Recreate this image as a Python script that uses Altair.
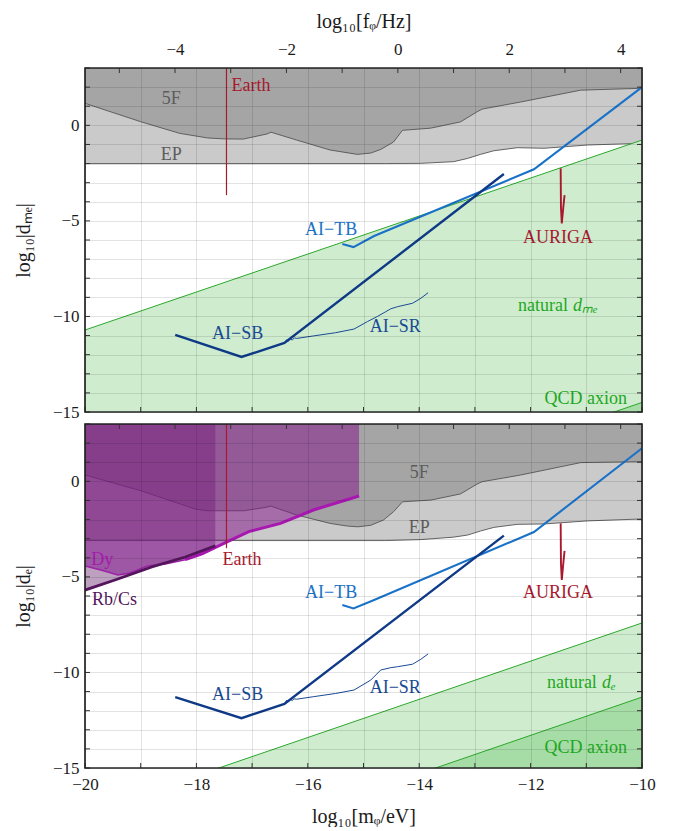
import altair as alt
import pandas as pd

# ---------------- constants ----------------
LOG_EV_TO_HZ = 14.38346          # log10(1 eV / h  in Hz)
W, H = 557, 344
X_MIN, X_MAX = -20, -10
Y_MIN, Y_MAX = -15, 3
FONT = "Liberation Serif"

X_GRID = list(range(-20, -9))
Y_GRID = list(range(-15, 4))
F_TICKS = list(range(-5, 5))
F_LABELS = [-4, -2, 0, 2, 4]

# ---------------- data : top panel (d_me) ----------------
F5_TOP_X = [-20.0, -19.0, -18.3, -17.8, -17.5, -17.16, -16.73, -16.66, -16.2, -15.6, -15.11,
            -14.87, -14.69, -14.46, -14.3, -13.8, -13.26, -12.96, -12.87, -12.18, -11.1, -10.0]
F5_TOP_Y = [1.15, 0.19, -0.42, -0.66, -0.71, -0.72, -0.45, -0.36, -0.77, -1.29, -1.52,
            -1.45, -1.26, -0.87, -0.26, -0.15, 0.18, 0.71, 0.85, 1.22, 1.84, 1.94]
EP_TOP_X = [-20.0, -14.6, -13.98, -13.38, -13.13, -12.9, -12.66, -12.24, -11.76, -10.98, -10.0]
EP_TOP_Y = [-2.0, -2.0, -1.99, -1.9, -1.73, -1.52, -1.33, -1.17, -1.2, -1.03, -0.94]

NAT_TOP_X = [-20.0, -10.0]
NAT_TOP_Y = [-10.71, -0.77]
QCD_TOP_X = [-20.0, -10.0]
QCD_TOP_Y = [-24.5, -14.5]

EARTH_X = -17.46
EARTH_TOP_END = -3.65
EARTH_BOT_END = -3.5

AURIGA_X = [-11.46, -11.455, -11.44, -11.41, -11.39]
AURIGA_TOP_Y = [-2.25, -4.3, -5.13, -4.2, -3.65]
AURIGA_BOT_Y = [-2.2, -4.3, -5.16, -4.2, -3.64]

AITB_X = [-15.38, -15.18, -14.81, -11.94, -10.0]
AITB_TOP_Y = [-6.21, -6.37, -5.79, -2.3, 2.0]
AITB_BOT_Y = [-6.47, -6.65, -6.21, -2.65, 1.73]

AISB_X = [-18.38, -17.19, -16.42, -12.48]
AISB_TOP_Y = [-10.97, -12.12, -11.39, -2.55]
AISB_BOT_Y = [-11.29, -12.39, -11.65, -2.84]

AISR_TOP_X = [-16.42, -16.38, -16.35, -16.31, -16.28, -16.24, -16.2, -15.9, -15.5, -15.17,
              -14.93, -14.75, -14.6, -14.51, -14.39, -14.12, -13.97, -13.84]
AISR_TOP_Y = [-11.39, -11.22, -11.3, -11.17, -11.24, -11.12, -11.15, -11.02, -10.85, -10.66,
              -10.27, -10.0, -9.75, -9.6, -9.49, -9.31, -9.05, -8.76]
AISR_BOT_X = [-16.42, -16.38, -16.35, -16.31, -16.28, -16.25, -16.2, -15.9, -15.5, -15.17,
              -14.87, -14.69, -14.51, -14.39, -14.12, -13.97, -13.84]
AISR_BOT_Y = [-11.65, -11.45, -11.55, -11.4, -11.48, -11.38, -11.4, -11.27, -11.1, -10.92,
              -10.4, -9.87, -9.75, -9.7, -9.57, -9.31, -9.03]

# ---------------- data : bottom panel (d_e) ----------------
F5_BOT_X = [-20.0, -19.0, -18.02, -17.81, -17.15, -16.73, -16.67, -16.2, -15.6, -15.29, -15.1,
            -14.87, -14.64, -14.46, -14.3, -13.79, -13.26, -12.96, -12.87, -12.18, -11.1, -10.0]
F5_BOT_Y = [0.33, -0.49, -1.45, -1.54, -1.54, -1.35, -1.29, -1.76, -2.2, -2.34, -2.38,
            -2.3, -2.02, -1.59, -1.07, -0.98, -0.66, -0.14, -0.02, 0.33, 0.98, 1.03]
EP_BOT_X = [-20.0, -14.6, -13.98, -13.38, -13.13, -12.9, -12.66, -12.24, -11.76, -10.98, -10.0]
EP_BOT_Y = [-3.1, -3.1, -3.05, -2.92, -2.81, -2.6, -2.41, -2.25, -2.23, -2.07, -1.97]

NAT_BOT_X = [-20.0, -10.0]
NAT_BOT_Y = [-17.4, -7.41]
QCD_BOT_X = [-20.0, -10.0]
QCD_BOT_Y = [-21.3, -11.29]

RBCS_X = [-20.0, -19.41, -18.8, -18.2, -17.66]
RBCS_Y = [-5.69, -5.11, -4.48, -3.96, -3.38]
DY_X = [-20.0, -19.7, -19.41, -19.19, -18.88, -18.56, -18.2, -17.9, -17.45, -17.06, -16.49, -15.9, -15.08]
DY_Y = [-4.43, -4.65, -4.9, -4.8, -4.43, -4.33, -4.1, -3.8, -3.17, -2.63, -2.2, -1.5, -0.77]
DY_JAGGED_FROM = 6      # index in DY_X where the scan line becomes noisy

# labels: (text, x, y)
TOP_LABELS_GRAY = [("5F", -18.45, 1.4), ("EP", -18.45, -1.55)]
TOP_LABELS_RED = [("Earth", -17.02, 2.06), ("AURIGA", -11.51, -5.9)]
TOP_LABELS_TB = [("AI\u2212TB", -15.58, -5.48)]
TOP_LABELS_SB = [("AI\u2212SB", -17.26, -10.92), ("AI\u2212SR", -14.43, -10.55)]
TOP_LABELS_GREEN = [("QCD axion", -11.01, -14.32)]
TOP_NATURAL = ("natural", "d\u2098\u2091", -11.33, -9.45)

BOT_LABELS_GRAY = [("5F", -14.0, 0.44), ("EP", -14.0, -2.44)]
BOT_LABELS_RED = [("Earth", -17.18, -4.12), ("AURIGA", -11.51, -5.84)]
BOT_LABELS_TB = [("AI\u2212TB", -15.58, -5.84)]
BOT_LABELS_SB = [("AI\u2212SB", -17.26, -11.18), ("AI\u2212SR", -14.43, -10.81)]
BOT_LABELS_GREEN = [("QCD axion", -11.01, -13.95)]
BOT_LABELS_DY = [("Dy", -19.69, -4.12)]
BOT_LABELS_RBCS = [("Rb/Cs", -19.47, -6.21)]
BOT_NATURAL = ("natural", "d\u2091", -10.81, -10.55)

# ---------------- helpers ----------------
MINUS_EXPR = "(datum.value < 0 ? '\u2212' + format(abs(datum.value), 'd') : format(datum.value, 'd'))"

xscale = alt.Scale(domain=[X_MIN, X_MAX], nice=False, zero=False)
yscale = alt.Scale(domain=[Y_MIN, Y_MAX], nice=False, zero=False)


def curve(xs, ys):
    return pd.DataFrame({"x": xs, "y": ys, "top": Y_MAX, "bottom": Y_MIN, "i": list(range(len(xs)))})


def x_axis(show):
    kw = dict(values=X_GRID, grid=True, gridColor="#000000", gridOpacity=0.14, gridWidth=0.8,
              ticks=False, domain=False, zindex=1, orient="bottom",
              labelOverlap=False, labelFlush=False, labelBound=False)
    if show:
        kw.update(labels=True, labelExpr=f"datum.value % 2 == 0 ? {MINUS_EXPR} : ''",
                  labelPadding=8, title="log\u2081\u2080[m\u1d69/eV]", titlePadding=14)
    else:
        kw.update(labels=False, title=None)
    return alt.Axis(**kw)


def y_axis(title):
    return alt.Axis(values=Y_GRID, grid=True, gridColor="#000000", gridOpacity=0.14, gridWidth=0.8,
                    ticks=False, domain=False, zindex=1,
                    labelExpr=f"datum.value % 5 == 0 ? {MINUS_EXPR} : ''",
                    labelPadding=6, title=title, titlePadding=19,
                    labelOverlap=False, labelFlush=False, labelBound=False)


def panel(top):
    X = alt.X("x:Q", scale=xscale, axis=x_axis(not top))
    Y = alt.Y("y:Q", scale=yscale, axis=y_axis("log\u2081\u2080|d\u2098\u2091|" if top else "log\u2081\u2080|d\u2091|"))

    def area(xs, ys, color, to="top", opacity=1.0):
        return alt.Chart(curve(xs, ys)).mark_area(color=color, opacity=opacity, clip=True).encode(
            x=X, y=Y, y2=alt.Y2(f"{to}:Q"))

    def line(xs, ys, color, width):
        return alt.Chart(curve(xs, ys)).mark_line(color=color, strokeWidth=width, clip=True).encode(
            x=X, y=Y, order="i:Q")

    def texts(items, color, italic=False, align="center"):
        df = pd.DataFrame({"text": [t[0] for t in items], "x": [t[1] for t in items], "y": [t[2] for t in items]})
        return alt.Chart(df).mark_text(font=FONT, fontSize=18, color=color, align=align, baseline="middle",
                                       fontStyle="italic" if italic else "normal").encode(x=X, y=Y, text="text:N")

    if top:
        f5x, f5y, epx, epy = F5_TOP_X, F5_TOP_Y, EP_TOP_X, EP_TOP_Y
        natx, naty, qx, qy = NAT_TOP_X, NAT_TOP_Y, QCD_TOP_X, QCD_TOP_Y
        earth_end, aur_y = EARTH_TOP_END, AURIGA_TOP_Y
        tb_y, sb_y, srx, sry = AITB_TOP_Y, AISB_TOP_Y, AISR_TOP_X, AISR_TOP_Y
        lg, lr, ltb, lsb, lgr, nat = (TOP_LABELS_GRAY, TOP_LABELS_RED, TOP_LABELS_TB, TOP_LABELS_SB,
                                      TOP_LABELS_GREEN, TOP_NATURAL)
    else:
        f5x, f5y, epx, epy = F5_BOT_X, F5_BOT_Y, EP_BOT_X, EP_BOT_Y
        natx, naty, qx, qy = NAT_BOT_X, NAT_BOT_Y, QCD_BOT_X, QCD_BOT_Y
        earth_end, aur_y = EARTH_BOT_END, AURIGA_BOT_Y
        tb_y, sb_y, srx, sry = AITB_BOT_Y, AISB_BOT_Y, AISR_BOT_X, AISR_BOT_Y
        lg, lr, ltb, lsb, lgr, nat = (BOT_LABELS_GRAY, BOT_LABELS_RED, BOT_LABELS_TB, BOT_LABELS_SB,
                                      BOT_LABELS_GREEN, BOT_NATURAL)

    layers = [
        area(epx, epy, "#cacaca"),
        area(f5x, f5y, "#a5a5a5"),
        line(epx, epy, "#555555", 0.9),
        line(f5x, f5y, "#555555", 0.9),
        area(natx, naty, "#cfeccf", to="bottom"),
        area(qx, qy, "#a6dca6", to="bottom"),
        line(natx, naty, "#2aa82a", 1.0),
        line(qx, qy, "#2aa82a", 1.0),
    ]
    if not top:
        layers += [
            area(RBCS_X, RBCS_Y, "#68246f", opacity=0.44),
            area(DY_X, DY_Y, "#82168a", opacity=0.52),
            line(DY_X, DY_Y, "#9c22a6", 1.5),
            line(DY_X[DY_JAGGED_FROM:], DY_Y[DY_JAGGED_FROM:], "#a818b0", 3.0),
            line(RBCS_X, RBCS_Y, "#55155d", 2.8),
        ]
    layers += [
        alt.Chart(curve([EARTH_X], [earth_end])).mark_rule(color="#a8192e", strokeWidth=1.2).encode(
            x=X, y=Y, y2=alt.Y2("top:Q")),
        line(AURIGA_X, aur_y, "#a8192e", 1.9),
        line(srx, sry, "#1a4a94", 1.0),
        line(AITB_X, tb_y, "#1a72c8", 2.1),
        line(AISB_X, sb_y, "#0e3a87", 2.4),
        texts(lg, "#5c5c5c"),
        texts(lr, "#a8192e"),
        texts(ltb, "#1a72c8"),
        texts(lsb, "#1a4a94"),
        texts(lgr, "#22a822"),
        texts([(nat[0], nat[2], nat[3])], "#22a822", align="right"),
        alt.Chart(pd.DataFrame({"text": [nat[1]], "x": [nat[2]], "y": [nat[3]]})).mark_text(
            font=FONT, fontSize=18, color="#22a822", align="left", baseline="middle", fontStyle="italic", dx=5
        ).encode(x=X, y=Y, text="text:N"),
    ]
    if not top:
        layers += [texts(BOT_LABELS_DY, "#a21cab"), texts(BOT_LABELS_RBCS, "#55155d")]

    # frame ticks (inward)
    layers += [
        alt.Chart(pd.DataFrame({"x": X_GRID})).mark_rule(color="#333333").encode(
            x=X, y=alt.value(H - 5), y2=alt.value(H)),
        alt.Chart(pd.DataFrame({"y": Y_GRID})).mark_rule(color="#333333").encode(
            y=Y, x=alt.value(0), x2=alt.value(5)),
        alt.Chart(pd.DataFrame({"y": Y_GRID})).mark_rule(color="#333333").encode(
            y=Y, x=alt.value(W - 5), x2=alt.value(W)),
        alt.Chart(pd.DataFrame({"k": [0]})).mark_rect(filled=False, stroke="#262626", strokeWidth=1.7).encode(
            x=alt.value(0), x2=alt.value(W), y=alt.value(0), y2=alt.value(H)),
    ]

    f_axis = alt.Axis(orient="top", values=F_LABELS, labelExpr=MINUS_EXPR, ticks=False, domain=False,
                      grid=False, title="log\u2081\u2080[f\u1d69/Hz]", labelPadding=10, titlePadding=9,
                      labelFlush=False) if top else None
    flayer = alt.Chart(pd.DataFrame({"f": F_TICKS})).mark_rule(color="#333333").encode(
        x=alt.X("f:Q", scale=alt.Scale(domain=[X_MIN + LOG_EV_TO_HZ, X_MAX + LOG_EV_TO_HZ], nice=False, zero=False),
                axis=f_axis),
        y=alt.value(0), y2=alt.value(5))

    return alt.layer(alt.layer(*layers), flayer).resolve_scale(x="independent").properties(width=W, height=H)


chart = alt.vconcat(panel(True), panel(False), spacing=12, bounds="flush").properties(
    padding={"left": 4, "top": 2, "right": 5, "bottom": 0}
).configure_view(stroke="transparent").configure_axis(
    labelFont=FONT, titleFont=FONT, labelFontSize=17, titleFontSize=20,
    labelColor="#1a1a1a", titleColor="#1a1a1a", titleFontWeight="normal"
)

chart.save("out.html", embed_options={"renderer": "svg", "actions": False})
